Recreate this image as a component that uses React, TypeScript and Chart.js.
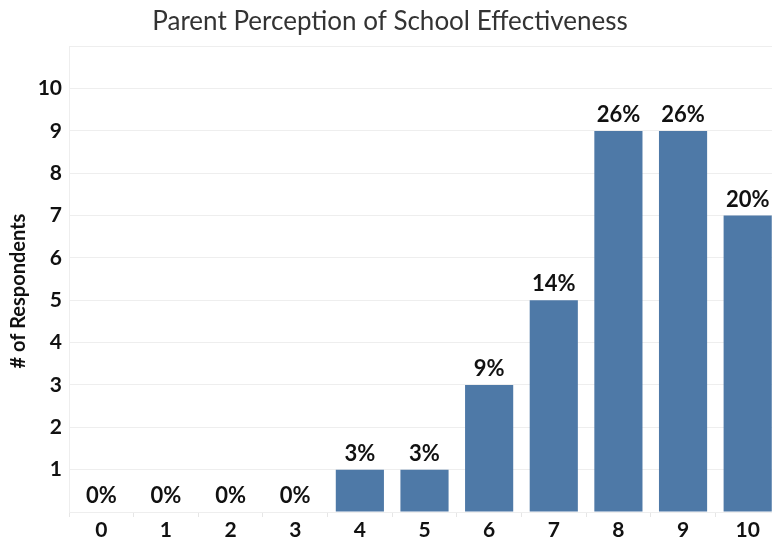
import React, { useEffect, useRef } from "react";
import { Chart, registerables } from "chart.js";

Chart.register(...registerables);

const scores = ["0", "1", "2", "3", "4", "5", "6", "7", "8", "9", "10"];
const respondents = [0, 0, 0, 0, 1, 1, 3, 5, 9, 9, 7];
const yTicks = [1, 2, 3, 4, 5, 6, 7, 8, 9, 10];

const BAR_COLOR = "#4E79A7";
const FONT = "Lato, 'Noto Sans', sans-serif";

const totalRespondents = respondents.reduce((a, b) => a + b, 0);

// Percentage of respondents written above each bar
const barLabels = {
  id: "barLabels",
  afterDatasetsDraw(chart: any) {
    const ctx = chart.ctx;
    const meta = chart.getDatasetMeta(0);
    ctx.save();
    ctx.font = `bold 22px ${FONT}`;
    ctx.fillStyle = "#111";
    ctx.textAlign = "center";
    ctx.textBaseline = "middle";
    meta.data.forEach((bar: any, i: number) => {
      const pct = Math.round((respondents[i] / totalRespondents) * 100);
      ctx.fillText(`${pct}%`, bar.x, bar.y - 16);
    });
    ctx.restore();
  },
};

// Vertical y-axis caption, centred a little below the plot's midpoint
const yCaption = {
  id: "yCaption",
  afterDraw(chart: any) {
    const ctx = chart.ctx;
    const { top, bottom } = chart.chartArea;
    ctx.save();
    ctx.translate(19, (top + bottom) / 2 + 12);
    ctx.rotate(-Math.PI / 2);
    ctx.font = `bold 20px ${FONT}`;
    ctx.fillStyle = "#111";
    ctx.textAlign = "center";
    ctx.textBaseline = "middle";
    ctx.fillText("# of Respondents", 0, 0);
    ctx.restore();
  },
};

export default function App() {
  const canvasRef = useRef<HTMLCanvasElement | null>(null);

  useEffect(() => {
    document.body.style.margin = "0";
    document.body.style.overflow = "hidden";
    const chart = new Chart(canvasRef.current!, {
      type: "bar",
      data: {
        labels: scores,
        datasets: [
          {
            data: respondents,
            backgroundColor: BAR_COLOR,
            borderWidth: 0,
            barPercentage: 0.745,
            categoryPercentage: 1,
          },
        ],
      },
      plugins: [barLabels, yCaption],
      options: {
        responsive: false,
        animation: false,
        devicePixelRatio: 1,
        layout: { padding: { left: 0, right: 0, top: 0, bottom: 0 } },
        plugins: {
          legend: { display: false },
          tooltip: { enabled: false },
          title: {
            display: true,
            text: "Parent Perception of School Effectiveness",
            color: "#333",
            font: { family: FONT, size: 26, weight: "normal", lineHeight: 1.2 },
            padding: { top: 6, bottom: 9 },
          },
        },
        scales: {
          x: {
            grid: {
              offset: true,
              drawOnChartArea: false,
              drawTicks: true,
              tickLength: 5,
              color: "#e6e6e6",
            },
            border: { display: true, color: "#eeeeee" },
            ticks: {
              color: "#111",
              font: { family: FONT, size: 21, weight: "bold", lineHeight: 1 },
              padding: 3,
            },
          },
          y: {
            min: 0,
            max: 11,
            afterFit: (scale: any) => {
              scale.width = 69;
            },
            afterBuildTicks: (scale: any) => {
              scale.ticks = [0, ...yTicks, 11].map((v) => ({ value: v }));
            },
            grid: {
              drawTicks: false,
              color: "#eeeeee",
            },
            border: { display: true, color: "#eeeeee" },
            ticks: {
              color: "#111",
              font: { family: FONT, size: 21, weight: "bold" },
              padding: 7,
              callback: (v: any) => (yTicks.includes(Number(v)) ? String(v) : ""),
            },
          },
        },
      },
    });
    return () => chart.destroy();
  }, []);

  return (
    <div
      style={{
        position: "fixed",
        left: 0,
        top: 0,
        width: 772,
        height: 544,
        overflow: "hidden",
        background: "#fff",
      }}
    >
      <canvas ref={canvasRef} width={780} height={544} />
    </div>
  );
}
